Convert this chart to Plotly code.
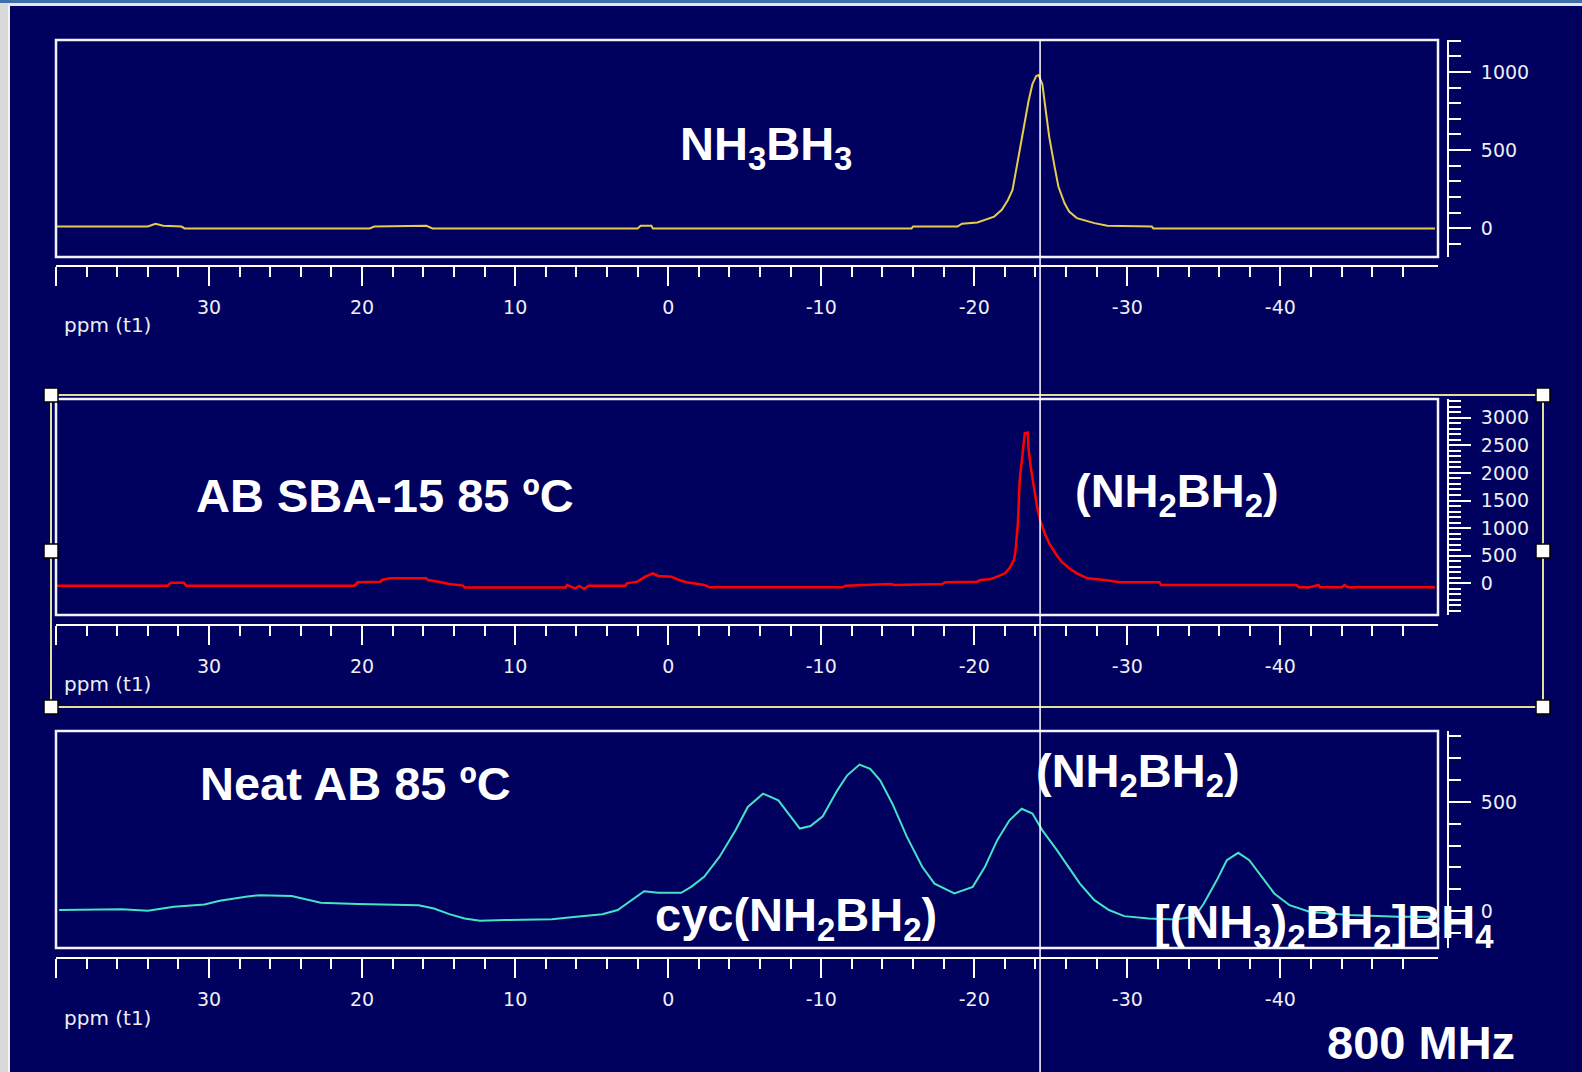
import plotly.graph_objects as go

# ---------------- data ----------------
ppm_nh3bh3 = [40.0, 34.0, 33.5, 33.0, 31.8, 31.6, 19.5, 19.2, 15.8, 15.4, 2.0, 1.8, 1.1, 1.0,
              -15.9, -16.0, -18.9, -19.2, -20.2, -20.7, -21.3, -21.8, -22.2, -22.5, -22.7, -22.97,
              -23.3, -23.55, -23.8, -24.05, -24.2, -24.45, -24.7, -24.9, -25.25, -25.5,
              -25.9, -26.2, -26.7, -27.2, -27.85, -28.7, -31.6, -31.7, -50.1]
int_nh3bh3 = [10, 10, 28, 15, 10, -2, -2, 10, 15, -2, -2, 15, 15, -2,
              -2, 10, 10, 28, 36, 53, 74, 117, 180, 244, 350, 498,
              668, 816, 922, 975, 981, 922, 731, 583, 392, 265,
              159, 106, 64, 49, 32, 15, 10, -2, -2]

ppm_sba = [40.0, 32.7, 32.5, 31.65, 31.5, 20.5, 20.3, 18.8, 18.7, 18.2, 15.8, 15.7, 15.0, 14.3,
           13.4, 13.3, 6.7, 6.6, 6.1, 5.8, 5.5, 5.2, 2.8, 2.7, 2.0, 1.5, 1.0, 0.65, -0.2, -0.7,
           -1.2, -2.35, -2.7, -11.4, -11.6, -14.5, -14.8, -17.9, -18.1, -20.2, -20.4, -21.0,
           -21.5, -22.0, -22.3, -22.6, -22.7, -22.85, -22.97, -23.1, -23.3, -23.5, -23.55,
           -23.7, -23.9, -24.1, -24.3, -24.6, -24.9, -25.3, -25.7, -26.2, -26.7, -27.4, -28.5,
           -29.5, -32.1, -32.2, -41.05, -41.2, -41.9, -42.5, -42.6, -44.0, -44.2, -44.4, -50.1]
int_sba = [-42, -42, 12, 12, -42, -42, 18, 30, 60, 90, 90, 60, 30, -12,
           -42, -78, -78, -30, -90, -48, -102, -42, -42, 0, 30, 120, 181, 133, 120, 60,
           18, -30, -72, -72, -42, -12, -30, -12, 18, 30, 60, 72,
           120, 181, 272, 423, 604, 1087, 1872, 2235, 2718, 2730, 2416,
           2084, 1691, 1389, 1148, 906, 725, 544, 393, 272, 181, 91, 60,
           18, 18, -30, -30, -72, -72, -30, -72, -72, -30, -72, -72]

ppm_neat = [39.8, 35.7, 34.0, 32.3, 30.3, 29.3, 27.6, 26.7, 24.6, 23.7, 22.7, 20.3, 16.3, 15.3,
            14.3, 13.3, 12.3, 10.65, 7.6, 6.0, 4.3, 3.3, 2.5, 1.57, 0.65, -0.85, -1.5, -2.35,
            -3.35, -4.4, -5.2, -6.2, -7.2, -8.0, -8.6, -9.3, -10.1, -11.05, -11.7, -12.5, -13.2,
            -13.85, -14.65, -15.6, -16.6, -17.4, -18.7, -19.9, -20.7, -21.5, -22.3, -23.1, -23.8,
            -24.45, -25.4, -26.9, -27.85, -28.8, -29.8, -31.4, -33.1, -34.4, -35.0, -35.85, -36.5,
            -37.25, -37.97, -38.95, -39.6, -40.6, -41.9, -44.5, -47.7, -50.1]
int_neat = [5, 8, 2, 20, 30, 47, 66, 73, 69, 53, 38, 32, 27, 12,
            -14, -34, -44, -41, -37, -26, -14, 5, 43, 91, 84, 84, 111, 157,
            248, 370, 477, 538, 507, 431, 378, 390, 434, 553, 622, 671, 652,
            599, 492, 340, 203, 126, 81, 111, 203, 325, 416, 469, 447,
            370, 279, 126, 50, 5, -23, -34, -38, -26, 35, 142, 233,
            267, 233, 142, 81, 27, -3, -18, -26, -26]

cursor_ppm = -24.3

x_tickvals = [40, 30, 20, 10, 0, -10, -20, -30, -40]
x_ticktext = ["", "30", "20", "10", "0", "-10", "-20", "-30", "-40"]
x_minorvals = [v for v in range(38, -49, -2) if v % 10 != 0]
y1_tickvals = [0, 500, 1000]
y2_tickvals = [0, 500, 1000, 1500, 2000, 2500, 3000]
y3_tickvals = [0, 500]

# ---------------- layout helpers ----------------
W, H = 1582, 1072
BG = "#00005e"
def px(x):
    return x / W
def py(y):
    return 1 - y / H

XDOM = [px(56), px(1438)]
XRANGE = [40, -50.3]
panels = [
    dict(top=40, bot=257, axis=266, yrange=[-185, 1205], tv=y1_tickvals),
    dict(top=399, bot=615, axis=625, yrange=[-574, 3339], tv=y2_tickvals),
    dict(top=731, bot=948, axis=958, yrange=[-169, 825], tv=y3_tickvals),
]

fig = go.Figure()
series = [(ppm_nh3bh3, int_nh3bh3, "#e6cc4a", 2),
          (ppm_sba, int_sba, "#ff0000", 2.5),
          (ppm_neat, int_neat, "#46e2c6", 2)]
for i, (xs, ys, col, w) in enumerate(series):
    sfx = "" if i == 0 else str(i + 1)
    fig.add_trace(go.Scatter(x=xs, y=ys, mode="lines", line=dict(color=col, width=w),
                             xaxis="x" + sfx, yaxis="y" + sfx, showlegend=False,
                             hoverinfo="skip"))

tickfont = dict(family="DejaVu Sans", size=19, color="#eeeef4")
lay = dict(width=W, height=H, margin=dict(l=0, r=0, t=0, b=0),
           paper_bgcolor=BG, plot_bgcolor=BG, showlegend=False)
for i, p in enumerate(panels):
    sfx = "" if i == 0 else str(i + 1)
    lay["xaxis" + sfx] = dict(
        domain=XDOM, range=XRANGE, anchor="free", position=py(p["axis"]),
        showline=True, linecolor="white", linewidth=2, showgrid=False, zeroline=False,
        tickmode="array", tickvals=x_tickvals, ticktext=x_ticktext,
        ticks="outside", ticklen=19, tickwidth=2, tickcolor="white",
        minor=dict(tickmode="array", tickvals=x_minorvals, ticks="outside", ticklen=10,
                   tickwidth=2, tickcolor="white", showgrid=False),
        tickfont=tickfont, ticklabelstandoff=5)
    lay["yaxis" + sfx] = dict(
        domain=[py(p["bot"]), py(p["top"])], range=p["yrange"], anchor="free",
        position=px(1448), side="right",
        showline=True, linecolor="white", linewidth=2, showgrid=False, zeroline=False,
        tickmode="array", tickvals=p["tv"], ticktext=[str(v) for v in p["tv"]],
        ticks="outside", ticklen=22, tickwidth=2, tickcolor="white",
        minor=dict(tickmode="linear", tick0=0, dtick=100, ticks="outside", ticklen=12,
                   tickwidth=2, tickcolor="white", showgrid=False),
        tickfont=tickfont, ticklabelstandoff=6)
fig.update_layout(**lay)

shapes = []
# window decoration
shapes.append(dict(type="rect", xref="paper", yref="paper", x0=0, x1=1, y0=py(3), y1=1,
                   line_width=0, fillcolor="#3f6fa6", layer="above"))
shapes.append(dict(type="rect", xref="paper", yref="paper", x0=0, x1=1, y0=py(6), y1=py(3),
                   line_width=0, fillcolor="#e4e6ea", layer="above"))
shapes.append(dict(type="rect", xref="paper", yref="paper", x0=0, x1=px(8), y0=0, y1=py(3),
                   line_width=0, fillcolor="#d9d9d9", layer="above"))
shapes.append(dict(type="rect", xref="paper", yref="paper", x0=px(8), x1=px(10), y0=0, y1=py(6),
                   line_width=0, fillcolor="#f4f4f4", layer="above"))
# panel frames
for i in range(3):
    sfx = "" if i == 0 else str(i + 1)
    shapes.append(dict(type="rect", xref="x" + sfx + " domain", yref="y" + sfx + " domain",
                       x0=0, x1=1, y0=0, y1=1, line=dict(color="#f2f2ff", width=2.5),
                       layer="above"))
# selection box around panel 2
sel = dict(l=51, r=1543, t=395, b=707, mid=551)
shapes.append(dict(type="rect", xref="paper", yref="paper", x0=px(sel["l"]), x1=px(sel["r"]),
                   y0=py(sel["b"]), y1=py(sel["t"]), line=dict(color="#e4e09a", width=2)))
for hx in (sel["l"], sel["r"]):
    for hy in (sel["t"], sel["mid"], sel["b"]):
        shapes.append(dict(type="rect", xref="paper", yref="paper",
                           x0=px(hx - 7), x1=px(hx + 7), y0=py(hy + 7), y1=py(hy - 7),
                           fillcolor="white", line=dict(color="black", width=1.5),
                           layer="above"))
# cursor line
shapes.append(dict(type="line", xref="x", yref="paper", x0=cursor_ppm, x1=cursor_ppm,
                   y0=0, y1=py(40), line=dict(color="white", width=1.5), layer="above"))
fig.update_layout(shapes=shapes)

TF = dict(family="Liberation Sans, Arial", size=47, color="white", weight="bold")
labels = [
    ("NH<sub>3</sub>BH<sub>3</sub>", 678, 147),
    ("AB SBA-15 85 ºC", 194, 495),
    ("(NH<sub>2</sub>BH<sub>2</sub>)", 1073, 494),
    ("Neat AB 85 ºC", 198, 783),
    ("cyc(NH<sub>2</sub>BH<sub>2</sub>)", 653, 918),
    ("(NH<sub>2</sub>BH<sub>2</sub>)", 1034, 774),
    ("[(NH<sub>3</sub>)<sub>2</sub>BH<sub>2</sub>]BH<sub>4</sub>", 1152, 925),
    ("800 MHz", 1325, 1042),
]
ann = []
for t, x, y in labels:
    ann.append(dict(text=t, x=px(x), y=py(y), xref="paper", yref="paper",
                    xanchor="left", yanchor="middle", showarrow=False, font=TF))
for y in (325, 684, 1018):
    ann.append(dict(text="ppm (t1)", x=px(62), y=py(y), xref="paper", yref="paper",
                    xanchor="left", yanchor="middle", showarrow=False,
                    font=dict(family="DejaVu Sans", size=20, color="#eeeef4")))
fig.update_layout(annotations=ann)

fig.write_html("out.html")
